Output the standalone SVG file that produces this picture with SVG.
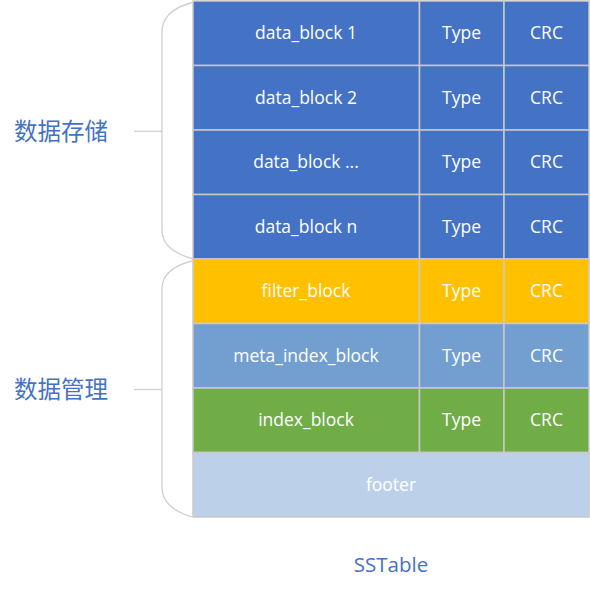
<svg xmlns="http://www.w3.org/2000/svg" width="590" height="592" viewBox="0 0 590 592">
<style>
.c{stroke:#C9C9C9;stroke-width:1.5}
.t{font-family:"Open Sans","Liberation Sans",sans-serif;font-size:17.5px;fill:#FFFFFF;text-anchor:middle}
.b{fill:#4472C4}
.lab{font-family:"Noto Sans CJK SC",sans-serif;font-size:23.5px;fill:#4472C4}
.br{fill:none;stroke:#D0D0D0;stroke-width:1.3}
</style>
<rect width="590" height="592" fill="#FFFFFF"/>
<g id="row1"><rect class="b c" x="193" y="1" width="226.5" height="64.5"/><rect class="b c" x="419.5" y="1" width="84.5" height="64.5"/><rect class="b c" x="504" y="1" width="85" height="64.5"/>
<text class="t" x="306" y="39">data_block 1</text><text class="t" x="461.5" y="39">Type</text><text class="t" x="546.5" y="39">CRC</text></g>
<g id="row2"><rect class="b c" x="193" y="65.5" width="226.5" height="64.5"/><rect class="b c" x="419.5" y="65.5" width="84.5" height="64.5"/><rect class="b c" x="504" y="65.5" width="85" height="64.5"/>
<text class="t" x="306" y="103.5">data_block 2</text><text class="t" x="461.5" y="103.5">Type</text><text class="t" x="546.5" y="103.5">CRC</text></g>
<g id="row3"><rect class="b c" x="193" y="130" width="226.5" height="64.5"/><rect class="b c" x="419.5" y="130" width="84.5" height="64.5"/><rect class="b c" x="504" y="130" width="85" height="64.5"/>
<text class="t" x="306" y="168">data_block ...</text><text class="t" x="461.5" y="168">Type</text><text class="t" x="546.5" y="168">CRC</text></g>
<g id="row4"><rect class="b c" x="193" y="194.5" width="226.5" height="64.5"/><rect class="b c" x="419.5" y="194.5" width="84.5" height="64.5"/><rect class="b c" x="504" y="194.5" width="85" height="64.5"/>
<text class="t" x="306" y="232.5">data_block n</text><text class="t" x="461.5" y="232.5">Type</text><text class="t" x="546.5" y="232.5">CRC</text></g>
<g id="filter"><rect class="c" fill="#FFC000" x="193" y="259" width="226.5" height="64.5"/><rect class="c" fill="#FFC000" x="419.5" y="259" width="84.5" height="64.5"/><rect class="c" fill="#FFC000" x="504" y="259" width="85" height="64.5"/>
<text class="t" x="306" y="297">filter_block</text><text class="t" x="461.5" y="297">Type</text><text class="t" x="546.5" y="297">CRC</text></g>
<g id="meta"><rect class="c" fill="#729FCF" x="193" y="323.5" width="226.5" height="64.5"/><rect class="c" fill="#729FCF" x="419.5" y="323.5" width="84.5" height="64.5"/><rect class="c" fill="#729FCF" x="504" y="323.5" width="85" height="64.5"/>
<text class="t" x="306" y="361.5">meta_index_block</text><text class="t" x="461.5" y="361.5">Type</text><text class="t" x="546.5" y="361.5">CRC</text></g>
<g id="index"><rect class="c" fill="#70AD47" x="193" y="388" width="226.5" height="64.5"/><rect class="c" fill="#70AD47" x="419.5" y="388" width="84.5" height="64.5"/><rect class="c" fill="#70AD47" x="504" y="388" width="85" height="64.5"/>
<text class="t" x="306" y="426">index_block</text><text class="t" x="461.5" y="426">Type</text><text class="t" x="546.5" y="426">CRC</text></g>
<g id="footer"><rect class="c" fill="#BDD0E9" x="193" y="452.5" width="396" height="64.5"/>
<text class="t" x="391" y="490.5">footer</text></g>
<g id="connectors">
<path class="br" d="M192,2.5 C172,8 162,18 162,32 L162,230 C162,244 172,253 192,258.5"/>
<path class="br" d="M134,131.3 L162,131.3"/>
<path class="br" d="M192,261 C172,266 162,276 162,289 L162,487 C162,501 172,511 192,517"/>
<path class="br" d="M134,389.5 L162,389.5"/>
</g>
<g id="labels">
<text class="lab" x="14" y="140">数据存储</text>
<text class="lab" x="14" y="398">数据管理</text>
<text x="391" y="572" font-family="'Open Sans','Liberation Sans',sans-serif" font-size="20.5" fill="#4472C4" text-anchor="middle">SSTable</text>
</g>
</svg>
